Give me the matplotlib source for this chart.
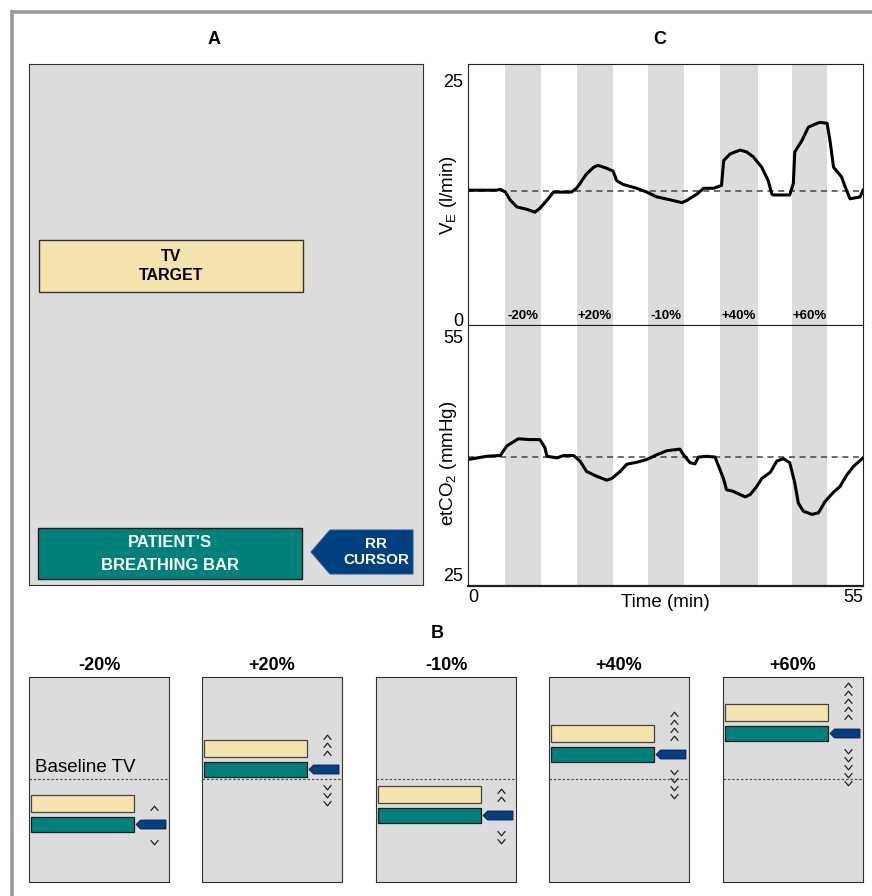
import matplotlib
matplotlib.use('Agg')
import matplotlib.pyplot as plt
from matplotlib.patches import Rectangle, Polygon
from matplotlib.path import Path
from matplotlib.lines import Line2D

plt.rcParams['font.family'] = ['Liberation Sans', 'DejaVu Sans']
plt.rcParams['mathtext.default'] = 'regular'

# ---- data ----
# ventilation trace (l/min) vs time (min)
ve_t = [0, 4.0, 4.5, 5.2, 5.9, 6.8, 8.2, 9.3, 10.0, 11.0, 11.9, 14.4, 15.1, 15.6, 16.5,
        17.5, 18.1, 19.3, 20.2, 20.7, 21.6, 23.5, 24.9, 26.3, 28.1, 29.8, 30.5, 31.9,
        32.8, 34.2, 35.3, 35.6, 36.5, 37.9, 38.8, 39.7, 40.9, 41.8, 42.3, 42.5, 44.8,
        45.3, 45.5, 46.5, 47.4, 48.3, 49.0, 50.0, 50.4, 50.9, 52.0, 52.7, 53.2, 54.6, 55.0]
ve_v = [13.5, 13.5, 13.6, 13.3, 12.45, 11.75, 11.5, 11.2, 11.6, 12.45, 13.3, 13.3, 13.7,
        14.2, 15.2, 15.9, 16.1, 15.8, 15.5, 14.5, 14.1, 13.7, 13.3, 12.8, 12.5, 12.2, 12.45,
        13.1, 13.7, 13.7, 14.0, 16.6, 17.3, 17.7, 17.5, 17.0, 15.9, 14.5, 13.1, 13.0, 13.0,
        14.2, 17.5, 18.7, 20.1, 20.4, 20.6, 20.5, 18.7, 15.9, 14.9, 13.5, 12.6, 12.8, 13.5]
ve_base = 13.4

# end-tidal CO2 trace (mmHg) vs time (min)
co2_t = [0, 2.6, 4.5, 5.4, 7.0, 8.6, 10.0, 10.7, 11.0, 12.4, 13.3, 14.7, 15.6, 16.5, 17.9,
         19.3, 20.0, 21.2, 22.1, 23.5, 24.9, 26.3, 27.7, 29.5, 30.0, 30.9, 31.6, 32.1, 33.2,
         34.4, 35.1, 35.6, 36.0, 36.9, 38.6, 39.3, 40.2, 40.9, 42.1, 43.0, 43.9, 44.8, 45.5,
         46.0, 46.7, 47.9, 48.8, 49.7, 50.9, 51.8, 52.7, 53.7, 55.0]
co2_v = [39.5, 39.9, 40.0, 41.2, 42.1, 42.0, 42.0, 41.0, 39.9, 39.7, 40.0, 40.0, 39.3, 38.0,
         37.4, 36.9, 37.1, 38.0, 38.9, 39.15, 39.5, 40.1, 40.6, 40.8, 40.1, 39.1, 38.95, 39.8,
         39.9, 39.8, 38.2, 37.0, 35.7, 35.5, 34.8, 35.1, 36.1, 37.1, 37.9, 39.3, 39.6, 39.1,
         36.55, 34.0, 33.0, 32.6, 32.8, 34.2, 35.4, 36.1, 37.5, 38.65, 39.7]
co2_base = 39.8

# test steps
step_labels = ['-20%', '+20%', '-10%', '+40%', '+60%']
step_start = [5.2, 15.2, 25.1, 35.1, 45.1]
step_end = [10.2, 20.2, 30.1, 40.4, 50.0]

# panel B: TV target bar level (px from panel bottom) and number of chevrons
target_level = [70, 125, 79, 140, 161]
n_chevrons = [1, 3, 2, 4, 5]
baseline_level = 103

# ---- colours ----
GREY = '#dcdcdc'
YELLOW = '#f5e3ae'
TEAL = '#00807b'
BLUE = '#003f80'
EDGE = '#333333'

W, H = 872, 896
fig = plt.figure(figsize=(W / 100, H / 100), dpi=100)


def px_axes(x0, y0, x1, y1):
    return fig.add_axes([x0 / W, 1 - y1 / H, (x1 - x0) / W, (y1 - y0) / H])


def ftext(x, y, s, **kw):
    fig.text(x / W, 1 - y / H, s, ha='center', va='center', **kw)


# outer frame
fig.add_artist(Line2D([12 / W, 12 / W], [0, 1 - 12 / H], transform=fig.transFigure,
                      color='#9a9a9a', lw=2.6))
fig.add_artist(Line2D([12 / W, 1], [1 - 12 / H, 1 - 12 / H], transform=fig.transFigure,
                      color='#9a9a9a', lw=2.6))

# ---- panel A ----
ftext(214, 40, 'A', fontsize=13, fontweight='bold')
axA = px_axes(29, 64, 423, 585)
axA.set_xlim(0, 394)
axA.set_ylim(0, 521)
axA.set_facecolor(GREY)
axA.set_xticks([])
axA.set_yticks([])
for s in axA.spines.values():
    s.set_color(EDGE)
axA.add_patch(Rectangle((10, 293), 264, 52, facecolor=YELLOW, edgecolor=EDGE, lw=1))
axA.text(142, 319, 'TV\nTARGET', ha='center', va='center', fontsize=11.5,
         fontweight='bold', linespacing=1.35)
axA.add_patch(Rectangle((9, 6), 264, 51, facecolor=TEAL, edgecolor='#1a1a1a', lw=1))
axA.text(141, 31, 'PATIENT\u2019S\nBREATHING BAR', ha='center', va='center', fontsize=12,
         fontweight='bold', color='white', linespacing=1.6)
axA.add_patch(Polygon([(282, 33), (301, 55), (384, 55), (384, 11), (301, 11)],
                      closed=True, facecolor=BLUE, edgecolor='#2a5a9a', lw=0.8))
axA.text(347, 33, 'RR\nCURSOR', ha='center', va='center', fontsize=11,
         fontweight='bold', color='white', linespacing=1.1)

# ---- panel C ----
ftext(660, 40, 'C', fontsize=13, fontweight='bold')
axV = px_axes(468, 64, 863, 325)
axC = px_axes(468, 325, 863, 586)
for ax in (axV, axC):
    ax.set_xlim(0, 55)
    for a, b in zip(step_start, step_end):
        ax.axvspan(a, b, color=GREY, lw=0, zorder=0)
    for s in ax.spines.values():
        s.set_color('#222222')
    ax.tick_params(length=0, labelsize=13, pad=3.5)

axV.set_ylim(-0.6, 26.7)
axV.set_yticks([0, 25])
axV.set_xticks([])
axV.axhline(ve_base, color='#444444', lw=1.1, dashes=(4, 3), zorder=1)
axV.plot(ve_t, ve_v, color='black', lw=2.2, zorder=2)
for a, b, lab in zip(step_start, step_end, step_labels):
    axV.text((a + b) / 2, 0.35, lab, ha='center', va='center', fontsize=9.5,
             fontweight='bold')
axV.set_ylabel('V$_E$ (l/min)', fontsize=13.5)
axV.yaxis.set_label_coords(-0.022, 0.5)

axC.set_ylim(23.6, 56.4)
axC.set_yticks([25, 55])
axC.axhline(co2_base, color='#444444', lw=1.1, dashes=(4, 3), zorder=1)
axC.plot(co2_t, co2_v, color='black', lw=2.2, zorder=2)
axC.set_xticks([0, 55])
xl = axC.get_xticklabels()
xl[0].set_ha('left')
xl[1].set_ha('right')
axC.tick_params(axis='x', pad=2)
axC.spines['bottom'].set_linewidth(1.6)
axC.text(0.5, -0.065, 'Time (min)', transform=axC.transAxes, ha='center', va='center',
         fontsize=13.5)
axC.set_ylabel('etCO$_2$ (mmHg)', fontsize=13.5)
axC.yaxis.set_label_coords(-0.022, 0.47)

# ---- panel B ----
ftext(437, 633, 'B', fontsize=13, fontweight='bold')
chev = Path([(-1, -0.6), (0, 0.6), (1, -0.6)], [Path.MOVETO, Path.LINETO, Path.LINETO])
chev_dn = Path([(-1, 0.6), (0, -0.6), (1, 0.6)], [Path.MOVETO, Path.LINETO, Path.LINETO])
panel_x = [29, 202, 376, 549, 723]
for i, lab in enumerate(step_labels):
    x0 = panel_x[i]
    ftext(x0 + 70, 665, lab, fontsize=13, fontweight='bold')
    ax = px_axes(x0, 677, x0 + 140, 882)
    ax.set_xlim(0, 140)
    ax.set_ylim(0, 205)
    ax.set_facecolor(GREY)
    ax.set_xticks([])
    ax.set_yticks([])
    for s in ax.spines.values():
        s.set_color(EDGE)
    ax.axhline(baseline_level, color='#555555', lw=0.9, ls=(0, (2, 1.5)), zorder=1)
    yb = target_level[i]
    ax.add_patch(Rectangle((2, yb), 103, 17.5, facecolor=YELLOW, edgecolor='#444444',
                           lw=0.9, zorder=2))
    tb = yb - 20
    ax.add_patch(Rectangle((2, tb), 103, 15, facecolor=TEAL, edgecolor='#1a1a1a',
                           lw=0.9, zorder=2))
    c = tb + 7.5
    ax.add_patch(Polygon([(107, c), (111.5, c + 4.5), (137, c + 4.5), (137, c - 4.5),
                          (111.5, c - 4.5)], closed=True, facecolor=BLUE,
                         edgecolor='#1a1a4a', lw=0.6, zorder=2))
    n = n_chevrons[i]
    ups = [c + 17 + 8 * k for k in range(n)]
    dns = [c - 17 - 8 * k for k in range(n)]
    ax.plot([125] * n, ups, ls='none', marker=chev, ms=5.5, mfc='none', mec='#222222',
            mew=0.9, zorder=3)
    ax.plot([125] * n, dns, ls='none', marker=chev_dn, ms=5.5, mfc='none', mec='#222222',
            mew=0.9, zorder=3)
    if i == 0:
        ax.text(6, 115, 'Baseline TV', ha='left', va='center', fontsize=13.5)

fig.savefig('out.png', dpi=100)
